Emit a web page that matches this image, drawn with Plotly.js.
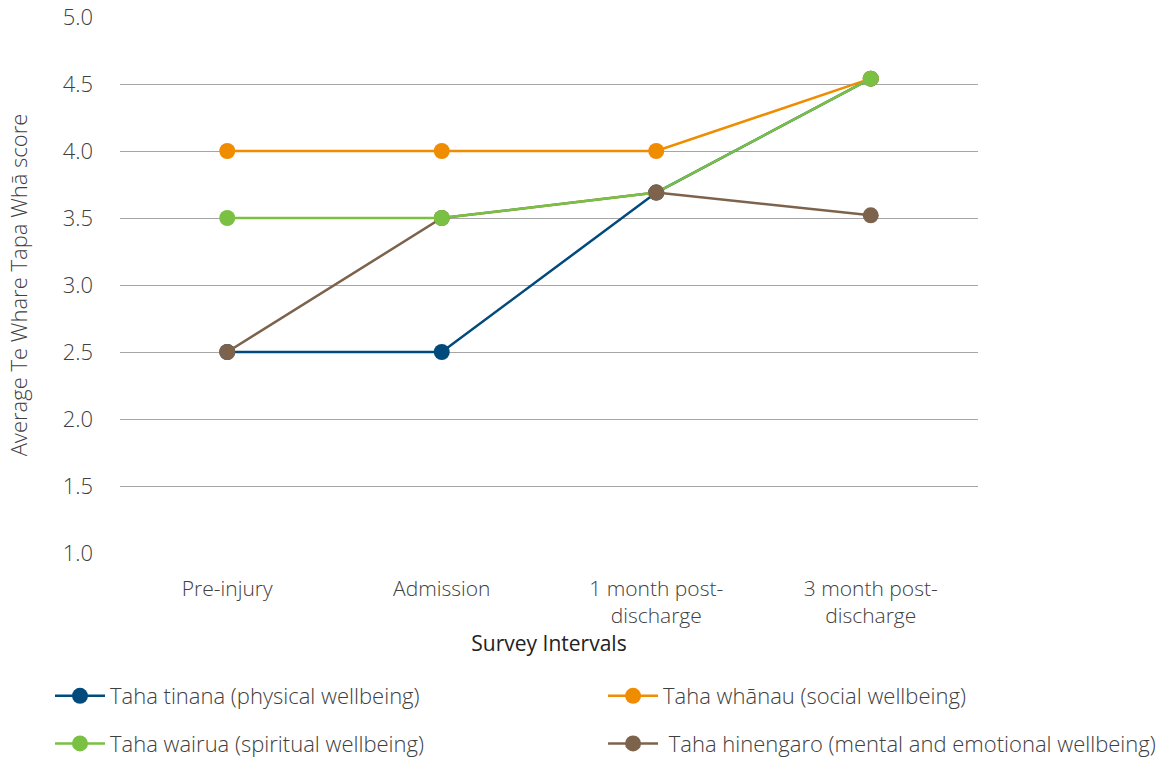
<!DOCTYPE html>
<html><head><meta charset="utf-8">
<script src="https://cdn.plot.ly/plotly-3.0.1.min.js"></script>
<style>html,body{margin:0;padding:0;background:#fff}#chart{width:1173px;height:758px}</style>
</head><body><div id="chart"></div>
<script>
const categories = ["Pre-injury", "Admission", "1 month post-<br>discharge", "3 month post-<br>discharge"];
const tinana = [2.5, 2.5, 3.69, 4.54];
const whanau = [4.0, 4.0, 4.0, 4.54];
const wairua = [3.5, 3.5, 3.69, 4.54];
const hinengaro = [2.5, 3.5, 3.69, 3.52];
const names = ["Taha tinana (physical wellbeing)", "Taha whānau (social wellbeing)", "Taha wairua (spiritual wellbeing)", " Taha hinengaro (mental and emotional wellbeing)"];
const colors = ["#004a7c", "#f08c00", "#7ac143", "#7d634c"];

function tr(y, i, rank, leg, mcolor) {
  return {x: categories, y: y, name: names[i], type: "scatter", mode: "lines+markers",
    line: {color: colors[i], width: 2.5}, marker: {color: mcolor || colors[i], size: 16},
    legendrank: rank, legend: leg, legendgroup: "g" + i};
}
const data = [
  tr(tinana, 0, 1, "legend"),
  tr(hinengaro, 3, 2, "legend2"),
  tr(whanau, 1, 1, "legend2"),
  tr(wairua, 2, 2, "legend", [colors[2], colors[2], colors[3], colors[2]])
];
const FAM = "'Open Sans', Lato, sans-serif";
const legFont = {family: FAM, size: 22, color: "#404040", weight: 300};
const legBase = {orientation: "v", yanchor: "top", xanchor: "left", y: -0.2276,
  font: legFont, itemwidth: 50, traceorder: "grouped", tracegroupgap: 16, bgcolor: "rgba(0,0,0,0)"};
const layout = {
  width: 1173, height: 758,
  margin: {l: 120, r: 195, t: 17, b: 205, autoexpand: false},
  paper_bgcolor: "#fff", plot_bgcolor: "#fff",
  font: {family: FAM, size: 22, color: "#404040", weight: 300},
  showlegend: true,
  legend: Object.assign({}, legBase, {x: -0.0816}),
  legend2: Object.assign({}, legBase, {x: 0.563}),
  xaxis: {type: "category", range: [-0.5, 3.5], showgrid: false, zeroline: false,
    showline: false, ticks: "", ticklabelstandoff: 21,
    tickfont: {size: 21, color: "#404040", weight: 300},
    title: {text: "Survey Intervals", font: {size: 21, color: "#222222", weight: 400}, standoff: 2}},
  yaxis: {range: [1, 5], dtick: 0.5, tickformat: ".1f", showgrid: true, gridcolor: "#a6a6a6",
    gridwidth: 1, zeroline: false, showline: false, ticks: "", ticklabelstandoff: 26,
    tickfont: {size: 22, color: "#404040", weight: 300},
    title: {text: "Average Te Whare Tapa Whā score", font: {size: 22, color: "#404040", weight: 300}, standoff: 28}}
};
Plotly.newPlot("chart", data, layout, {displayModeBar: false, staticPlot: true});
</script></body></html>
